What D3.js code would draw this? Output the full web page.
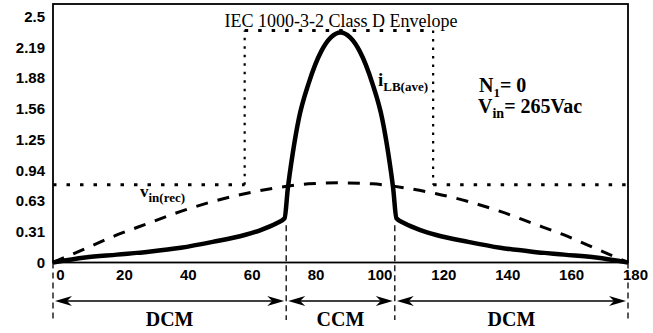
<!DOCTYPE html>
<html>
<head>
<meta charset="utf-8">
<script src="https://cdn.jsdelivr.net/npm/d3@7"></script>
<style>
  body { margin: 0; background: #fff; }
  svg { display: block; }
</style>
</head>
<body>
<div id="chart"></div>
<script>
// Data
const xTicks = [0, 20, 40, 60, 80, 100, 120, 140, 160, 180];
const yTicks = [0, 0.3125, 0.625, 0.9375, 1.25, 1.5625, 1.875, 2.1875, 2.5];
const yTickLabels = ["0", "0.31", "0.63", "0.94", "1.25", "1.56", "1.88", "2.19", "2.5"];

// i_LB(ave) curve
const iAngle = [0, 10, 20, 30, 40, 50, 60, 65, 70, 72.5, 73.5, 75, 77, 80, 84, 87, 90,
  93, 96, 100, 103, 105, 106.5, 107.5, 110, 115, 120, 130, 140, 150, 160, 170, 180];
const iLB = [0, 0.05, 0.08, 0.11, 0.15, 0.21, 0.28, 0.33, 0.40, 0.45, 0.75, 1.10, 1.47, 1.82, 2.15, 2.29, 2.34,
  2.29, 2.15, 1.82, 1.47, 1.10, 0.75, 0.45, 0.40, 0.33, 0.28, 0.21, 0.15, 0.11, 0.08, 0.05, 0];

// v_in(rec) curve
const vAngle = [0, 10, 20, 30, 40, 50, 60, 70, 80, 90, 100, 110, 120, 130, 140, 150, 160, 170, 180];
const vinRec = [0, 0.14, 0.28, 0.40, 0.52, 0.62, 0.70, 0.76, 0.80, 0.81, 0.80, 0.76, 0.70, 0.62, 0.52, 0.40, 0.28, 0.14, 0];

// IEC class D envelope
const envAngle = [0, 60, 60, 119, 119, 180];
const envLevel = [0.79, 0.79, 2.36, 2.36, 0.79, 0.79];

// conduction mode regions
const modeBounds = [0, 73, 107, 180];
const modeLabels = ["DCM", "CCM", "DCM"];

const w = 653;
const h = 333;
const padL = 53, padR = 628, padT = 4, padB = 262.5;

const svg = d3.select("#chart")
  .append("svg")
  .attr("width", w)
  .attr("height", h);

const x = d3.scaleLinear().domain([0, 180]).range([padL, padR]);
const y = d3.scaleLinear().domain([0, 2.5]).range([padB, 16.7]);

const sans = "'Liberation Sans', Arial, sans-serif";
const serif = "'Liberation Serif', 'Times New Roman', serif";

// frame
svg.append("rect")
  .attr("x", padL).attr("y", padT)
  .attr("width", padR - padL).attr("height", padB - padT)
  .attr("fill", "none").attr("stroke", "#000").attr("stroke-width", 1.8);

// axes (labels only, no tick marks)
const xAxis = svg.append("g")
  .attr("transform", `translate(0,${padB})`)
  .call(d3.axisBottom(x).tickValues(xTicks).tickSize(0).tickPadding(0));
xAxis.select("path.domain").remove();
xAxis.selectAll("text")
  .attr("dx", 7).attr("y", 17.5).attr("dy", 0)
  .attr("font-family", sans).attr("font-weight", "bold").attr("font-size", 15)
  .attr("fill", "#000");

const yAxis = svg.append("g")
  .attr("transform", `translate(${padL},0)`)
  .call(d3.axisLeft(y).tickValues(yTicks).tickSize(0).tickPadding(8)
    .tickFormat((d, i) => yTickLabels[i]));
yAxis.select("path.domain").remove();
yAxis.selectAll("text")
  .attr("font-family", sans).attr("font-weight", "bold").attr("font-size", 15)
  .attr("fill", "#000");

// envelope: horizontal and vertical runs dotted differently
for (let i = 0; i < envAngle.length - 1; i++) {
  const vertical = envAngle[i] === envAngle[i + 1];
  svg.append("line")
    .attr("x1", x(envAngle[i])).attr("y1", y(envLevel[i]))
    .attr("x2", x(envAngle[i + 1])).attr("y2", y(envLevel[i + 1]))
    .attr("stroke", "#000")
    .attr("stroke-width", vertical ? 2.2 : 3)
    .attr("stroke-dasharray", vertical ? "2.5,6" : "3.5,10");
}

// v_in(rec) dashed
svg.append("path")
  .datum(vAngle.map((a, i) => [a, vinRec[i]]))
  .attr("fill", "none").attr("stroke", "#000")
  .attr("stroke-width", 3).attr("stroke-dasharray", "12,10")
  .attr("d", d3.line().x(d => x(d[0])).y(d => y(d[1])).curve(d3.curveMonotoneX));

// i_LB(ave) solid
svg.append("path")
  .datum(iAngle.map((a, i) => [a, iLB[i]]))
  .attr("fill", "none").attr("stroke", "#000")
  .attr("stroke-width", 4.5).attr("stroke-linejoin", "round")
  .attr("d", d3.line().x(d => x(d[0])).y(d => y(d[1])).curve(d3.curveMonotoneX));

// mode boundaries
modeBounds.forEach((b, i) => {
  const inner = i > 0 && i < modeBounds.length - 1;
  svg.append("line")
    .attr("x1", x(b)).attr("x2", x(b))
    .attr("y1", inner ? y(0.38) : padB).attr("y2", 320)
    .attr("stroke", "#000").attr("stroke-width", 1.3)
    .attr("stroke-dasharray", "6,4");
});

// double arrows and labels
const arrowY = 301;
const head = (tipX, dir) => {
  const p = d3.path();
  p.moveTo(tipX, arrowY);
  p.lineTo(tipX + dir * 17, arrowY - 5);
  p.lineTo(tipX + dir * 12, arrowY);
  p.lineTo(tipX + dir * 17, arrowY + 5);
  p.closePath();
  return p.toString();
};
modeLabels.forEach((lab, i) => {
  const x0 = x(modeBounds[i]) + 2;
  const x1 = x(modeBounds[i + 1]) - 2;
  svg.append("line")
    .attr("x1", x0 + 8).attr("x2", x1 - 8)
    .attr("y1", arrowY).attr("y2", arrowY)
    .attr("stroke", "#000").attr("stroke-width", 1.6);
  svg.append("path").attr("d", head(x0, 1)).attr("fill", "#000");
  svg.append("path").attr("d", head(x1, -1)).attr("fill", "#000");
  svg.append("text")
    .attr("x", (x0 + x1) / 2).attr("y", 326)
    .attr("text-anchor", "middle")
    .attr("font-family", serif).attr("font-weight", "bold").attr("font-size", 20)
    .text(lab);
});

// title
svg.append("text")
  .attr("x", 341).attr("y", 26.5)
  .attr("text-anchor", "middle")
  .attr("font-family", serif).attr("font-size", 18)
  .text("IEC 1000-3-2 Class D Envelope");

// annotations with subscripts
function subText(px, py, main, sub, rest, mainSize, subSize) {
  const t = svg.append("text")
    .attr("x", px).attr("y", py)
    .attr("font-family", serif).attr("font-weight", "bold")
    .attr("font-size", mainSize);
  t.append("tspan").text(main);
  t.append("tspan").attr("font-size", subSize).attr("dy", 5).text(sub);
  if (rest) t.append("tspan").attr("dy", -5).text(rest);
}
subText(378, 86, "i", "LB(ave)", null, 19, 13);
subText(140, 197, "v", "in(rec)", null, 17, 13);
subText(479, 92, "N", "1", "= 0", 20, 13);
subText(478, 113, "V", "in", "= 265Vac", 20, 14);
</script>
</body>
</html>
